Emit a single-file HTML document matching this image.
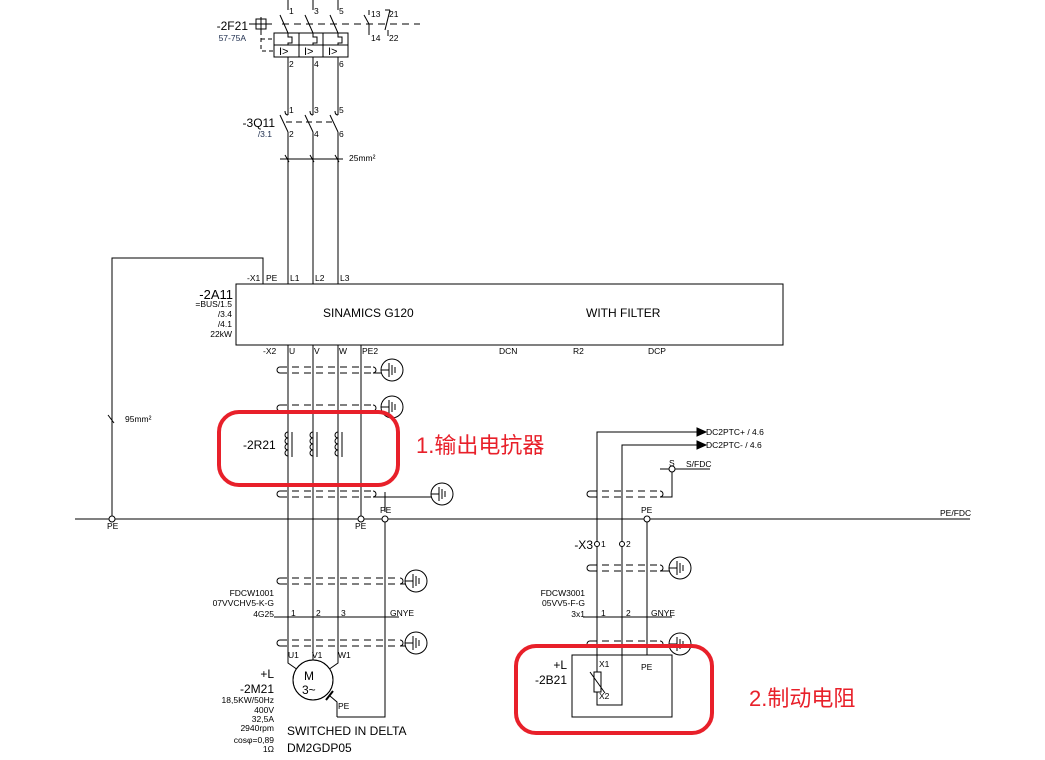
<!DOCTYPE html>
<html><head><meta charset="utf-8"><style>
html,body{margin:0;padding:0;background:#fff;width:1045px;height:760px;overflow:hidden}
svg{display:block}
text{font-family:"Liberation Sans","Noto Sans CJK SC",sans-serif;fill:#000}
.s{font-size:8.5px;fill:#203050}
.m{font-size:12px}
.e{text-anchor:end}
</style></head><body>
<svg width="1045" height="760" viewBox="0 0 1045 760" xmlns="http://www.w3.org/2000/svg">
<defs>
<g id="gnd"><circle cx="0" cy="0" r="11" fill="#fff" stroke="#000" stroke-width="1"/><line x1="-11" y1="0" x2="-3" y2="0" stroke="#000"/><line x1="-3" y1="-7" x2="-3" y2="7" stroke="#000"/><line x1="0" y1="-5" x2="0" y2="5" stroke="#000"/><line x1="3" y1="-3" x2="3" y2="3" stroke="#000"/></g>
</defs>
<g stroke="#000" stroke-width="1" fill="none">
<line x1="288" y1="0" x2="288" y2="10"/><line x1="313" y1="0" x2="313" y2="10"/><line x1="338" y1="0" x2="338" y2="10"/>
<line x1="280" y1="15" x2="288" y2="33"/><line x1="305" y1="15" x2="313" y2="33"/><line x1="330" y1="15" x2="338" y2="33"/>
<line x1="282" y1="24" x2="420" y2="24" stroke-dasharray="7,5"/>
<line x1="364" y1="15" x2="369" y2="24"/><line x1="369" y1="24" x2="369" y2="35"/><line x1="369" y1="10" x2="369" y2="15"/>
<line x1="385" y1="10" x2="390" y2="10"/><line x1="390" y1="10" x2="385" y2="30"/><line x1="388" y1="30" x2="388" y2="36"/>
<rect x="274" y="33" width="74" height="24"/>
<line x1="274" y1="45" x2="348" y2="45"/><line x1="299" y1="33" x2="299" y2="57"/><line x1="323" y1="33" x2="323" y2="57"/>
<path d="M288 33v4h4v6h-4v2M313 33v4h4v6h-4v2M338 33v4h4v6h-4v2"/>
<rect x="256" y="19" width="10" height="10"/><line x1="249" y1="24" x2="272" y2="24"/><line x1="261" y1="17" x2="261" y2="31"/>
<path d="M261 31v20h13M261 39h13" stroke-dasharray="4,3"/>
<line x1="288" y1="57" x2="288" y2="115"/><line x1="313" y1="57" x2="313" y2="115"/><line x1="338" y1="57" x2="338" y2="115"/>
<path d="M288 115q-3 0 -3 -4M313 115q-3 0 -3 -4M338 115q-3 0 -3 -4"/>
<line x1="280" y1="115" x2="288" y2="132"/><line x1="305" y1="115" x2="313" y2="132"/><line x1="330" y1="115" x2="338" y2="132"/>
<line x1="286" y1="122" x2="332" y2="122" stroke-dasharray="6,4"/>
<line x1="288" y1="132" x2="288" y2="284"/><line x1="313" y1="132" x2="313" y2="284"/><line x1="338" y1="132" x2="338" y2="284"/>
<line x1="280" y1="159" x2="343" y2="159"/>
<path d="M285 155l4 7M310 155l4 7M335 155l4 7"/>
<path d="M263 284V258H112V519"/>
<line x1="108" y1="415" x2="114" y2="423"/>
<rect x="236" y="284" width="547" height="61"/>
<line x1="288" y1="345" x2="288" y2="655"/><line x1="313" y1="345" x2="313" y2="655"/><line x1="338" y1="345" x2="338" y2="655"/>
<line x1="361" y1="345" x2="361" y2="519"/>
<g stroke-dasharray="7,5">
<line x1="280" y1="367" x2="373" y2="367"/><line x1="280" y1="373" x2="373" y2="373"/>
<line x1="280" y1="405" x2="373" y2="405"/><line x1="280" y1="411" x2="373" y2="411"/>
<line x1="280" y1="491" x2="373" y2="491"/><line x1="280" y1="497" x2="373" y2="497"/>
<line x1="280" y1="578" x2="400" y2="578"/><line x1="280" y1="584" x2="400" y2="584"/>
<line x1="280" y1="640" x2="400" y2="640"/><line x1="280" y1="646" x2="400" y2="646"/>
<line x1="590" y1="491" x2="660" y2="491"/><line x1="590" y1="497" x2="660" y2="497"/>
<line x1="590" y1="565" x2="660" y2="565"/><line x1="590" y1="571" x2="660" y2="571"/>
<line x1="590" y1="641" x2="660" y2="641"/><line x1="590" y1="647" x2="660" y2="647"/>
</g>
<path d="M280 367a3 3 0 0 0 0 6M280 405a3 3 0 0 0 0 6M280 491a3 3 0 0 0 0 6M280 578a3 3 0 0 0 0 6M280 640a3 3 0 0 0 0 6M590 491a3 3 0 0 0 0 6M590 565a3 3 0 0 0 0 6M590 641a3 3 0 0 0 0 6"/>
<path d="M373 367a3 3 0 0 1 0 6h8M373 405a3 3 0 0 1 0 6h8M373 491a3 3 0 0 1 0 6h58M400 578a3 3 0 0 1 0 6h5M400 640a3 3 0 0 1 0 6h5M660 491a3 3 0 0 1 0 6h12V470M660 565a3 3 0 0 1 0 6h9M660 641a3 3 0 0 1 0 6h9"/>
<path d="M288 432a3 3 0 0 0 0 6a3 3 0 0 0 0 6a3 3 0 0 0 0 6a3 3 0 0 0 0 6M313 432a3 3 0 0 0 0 6a3 3 0 0 0 0 6a3 3 0 0 0 0 6a3 3 0 0 0 0 6M338 432a3 3 0 0 0 0 6a3 3 0 0 0 0 6a3 3 0 0 0 0 6a3 3 0 0 0 0 6"/>
<line x1="292" y1="432" x2="292" y2="457"/><line x1="317" y1="432" x2="317" y2="457"/><line x1="342" y1="432" x2="342" y2="457"/>
<line x1="75" y1="519" x2="970" y2="519"/>
<path d="M385 516V717H337"/>
<line x1="385" y1="492" x2="385" y2="512"/>
<line x1="274" y1="617" x2="399" y2="617"/>
<line x1="583" y1="617" x2="672" y2="617"/>
<path d="M288 655v8l10 7M313 655v5M338 655v8l-10 7"/>
<circle cx="313" cy="680" r="20" fill="#fff"/>
<line x1="326" y1="700" x2="333" y2="691" stroke-width="2"/>
<path d="M330 696l7 6v15"/>
<path d="M597 700V432H697M622 690V445H697"/>
<path d="M697 428l9 4l-9 4zM697 441l9 4l-9 4z" fill="#000"/>
<line x1="660" y1="469" x2="710" y2="469"/>
<circle cx="672" cy="469" r="3" fill="#fff"/>
<line x1="647" y1="522" x2="647" y2="655"/>
<rect x="572" y="655" width="100" height="62"/>
<rect x="594" y="672" width="7" height="20" fill="#fff"/>
<line x1="590" y1="672" x2="605" y2="693"/>
<path d="M597 692v13h25v-15"/>
</g>
<g fill="#fff" stroke="#000">
<circle cx="112" cy="519" r="3"/><circle cx="361" cy="519" r="3"/><circle cx="385" cy="519" r="3"/><circle cx="647" cy="519" r="3"/>
<circle cx="597" cy="544" r="2.5"/><circle cx="622" cy="544" r="2.5"/>
</g>
<use href="#gnd" x="392" y="370"/><use href="#gnd" x="392" y="407"/><use href="#gnd" x="442" y="494"/>
<use href="#gnd" x="416" y="581"/><use href="#gnd" x="416" y="643"/>
<use href="#gnd" x="680" y="568"/><use href="#gnd" x="680" y="644"/>
<circle cx="313" cy="680" r="20" fill="none" stroke="#000"/>
<g style="font-family:'Liberation Serif',serif;font-size:11px"><text x="279" y="55">I&gt;</text><text x="304" y="55">I&gt;</text><text x="328" y="55">I&gt;</text></g>
<text x="248" y="30" class="m e">-2F21</text><text x="246" y="41" class="s e">57-75A</text>
<text x="275" y="127" class="m e">-3Q11</text><text x="272" y="137" class="s e">/3.1</text>
<g class="s"><text x="289" y="14">1</text><text x="314" y="14">3</text><text x="339" y="14">5</text>
<text x="371" y="17">13</text><text x="389" y="17">21</text><text x="371" y="41">14</text><text x="389" y="41">22</text>
<text x="289" y="67">2</text><text x="314" y="67">4</text><text x="339" y="67">6</text>
<text x="289" y="113">1</text><text x="314" y="113">3</text><text x="339" y="113">5</text>
<text x="289" y="137">2</text><text x="314" y="137">4</text><text x="339" y="137">6</text>
<text x="349" y="161">25mm²</text><text x="125" y="422">95mm²</text>
<text x="247" y="281">-X1</text><text x="266" y="281">PE</text><text x="290" y="281">L1</text><text x="315" y="281">L2</text><text x="340" y="281">L3</text>
<text x="232" y="307" class="e">=BUS/1.5</text><text x="232" y="317" class="e">/3.4</text><text x="232" y="327" class="e">/4.1</text><text x="232" y="337" class="e">22kW</text>
<text x="263" y="354">-X2</text><text x="289" y="354">U</text><text x="314" y="354">V</text><text x="339" y="354">W</text><text x="362" y="354">PE2</text>
<text x="499" y="354">DCN</text><text x="573" y="354">R2</text><text x="648" y="354">DCP</text>
<text x="107" y="529">PE</text><text x="355" y="529">PE</text><text x="380" y="513">PE</text><text x="641" y="513">PE</text><text x="940" y="516">PE/FDC</text>
<text x="274" y="596" class="e">FDCW1001</text><text x="274" y="606" class="e">07VVCHV5-K-G</text><text x="274" y="617" class="e">4G25</text>
<text x="291" y="616">1</text><text x="316" y="616">2</text><text x="341" y="616">3</text><text x="390" y="616">GNYE</text>
<text x="288" y="658">U1</text><text x="312" y="658">V1</text><text x="338" y="658">W1</text><text x="338" y="709">PE</text>
<text x="274" y="703" class="e">18,5KW/50Hz</text><text x="274" y="713" class="e">400V</text><text x="274" y="722" class="e">32,5A</text><text x="274" y="731" class="e">2940rpm</text><text x="274" y="743" class="e">cosφ=0,89</text><text x="274" y="752" class="e">1Ω</text>
<text x="706" y="435">DC2PTC+ / 4.6</text><text x="706" y="448">DC2PTC- / 4.6</text>
<text x="669" y="466">S</text><text x="686" y="467">S/FDC</text>
<text x="601" y="547">1</text><text x="626" y="547">2</text>
<text x="585" y="596" class="e">FDCW3001</text><text x="585" y="606" class="e">05VV5-F-G</text><text x="585" y="617" class="e">3x1</text>
<text x="601" y="616">1</text><text x="626" y="616">2</text><text x="651" y="616">GNYE</text>
<text x="599" y="667">X1</text><text x="599" y="699">X2</text><text x="641" y="670">PE</text></g>
<text x="233" y="299" class="m e" style="font-size:13px">-2A11</text>
<text x="323" y="317" class="m">SINAMICS G120</text>
<text x="586" y="317" class="m">WITH FILTER</text>
<text x="243" y="449" class="m">-2R21</text>
<text x="593" y="549" class="m e">-X3</text>
<text x="304" y="680" class="m">M</text><text x="302" y="694" class="m">3~</text>
<text x="274" y="678" class="m e">+L</text><text x="274" y="693" class="m e">-2M21</text>
<text x="287" y="735" class="m">SWITCHED IN DELTA</text><text x="287" y="752" class="m">DM2GDP05</text>
<text x="567" y="669" class="m e">+L</text><text x="567" y="684" class="m e">-2B21</text>
<g fill="none" stroke="#e8202a" stroke-width="4">
<rect x="219" y="412" width="179" height="73" rx="20"/>
<rect x="516" y="646" width="196" height="87" rx="20"/>
</g>
<text x="416" y="453" style="font-size:22px;fill:#e8202a">1.输出电抗器</text>
<text x="749" y="706" style="font-size:22px;fill:#e8202a">2.制动电阻</text>
</svg>
</body></html>
